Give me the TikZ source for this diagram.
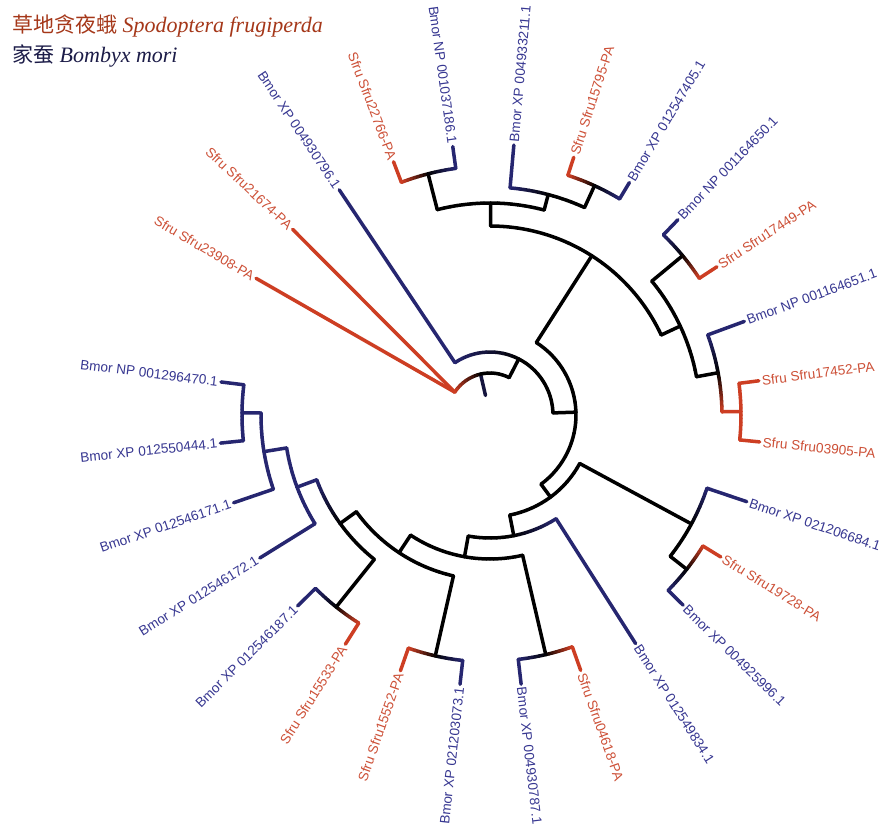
\documentclass[tikz,border=0pt]{standalone}
\usepackage{fontspec}
\setmainfont{Liberation Serif}
\newfontfamily\cjk{Noto Sans CJK SC}
\newfontfamily\labfont{Liberation Sans}
\usetikzlibrary{calc}
\definecolor{bm}{RGB}{38,38,112}
\definecolor{sf}{RGB}{205,62,35}
\definecolor{bml}{RGB}{55,55,145}
\definecolor{sfl}{RGB}{205,80,55}
\definecolor{lgr}{RGB}{165,55,25}
\definecolor{lgb}{RGB}{28,28,72}
\tikzset{br/.style={line width=3.5pt, line cap=round, line join=round},
  lab/.style={font=\labfont\fontsize{13.6}{15}\selectfont, inner sep=1pt},
  legend/.style={anchor=base west, inner sep=0pt, font=\fontsize{22}{25}\selectfont}}
% gradient arc: radius, from angle, to angle, from colour, to colour
\newcommand\garc[5]{%
  \foreach \k in {0,...,7}{%
    \pgfmathsetmacro\sa{#2+((#3)-(#2))*\k/8}%
    \pgfmathsetmacro\ea{#2+((#3)-(#2))*(\k+1)/8}%
    \pgfmathtruncatemacro\pc{(\k+0.5)*12.5}%
    \draw[br, draw=#5!\pc!#4] (\sa:#1pt) arc[start angle=\sa, end angle=\ea, radius=#1pt];
  }}
% internal node: name, angle, parent radius, own radius, colour
\newcommand\tnode[5]{%
  \coordinate (#1-b) at (#2:#3pt);
  \coordinate (#1) at (#2:#4pt);
  \draw[br, draw=#5] (#1-b) -- (#1);}
% leaf: name, angle, base coordinate, branch colour, label colour, text
\newcommand\leafcore[6]{%
  \coordinate (#1) at (#2:271pt);
  \draw[br, draw=#4] (#3) -- (#1);
  \pgfmathsetmacro\lcs{cos(#2)}%
  \ifdim\lcs pt>0pt
    \node[lab, text=#5, anchor=west, rotate=#2] (#1-t) at (#2:273pt) {#6};
  \else
    \pgfmathsetmacro\lrot{#2-180}%
    \node[lab, text=#5, anchor=east, rotate=\lrot] (#1-t) at (#2:273pt) {#6};
  \fi}
\newcommand\bleaf[4]{\coordinate (#1-b) at (#2:#3pt);\leafcore{#1}{#2}{#1-b}{bm}{bml}{#4}}
\newcommand\sleaf[4]{\coordinate (#1-b) at (#2:#3pt);\leafcore{#1}{#2}{#1-b}{sf}{sfl}{#4}}
\begin{document}
\begin{tikzpicture}
\useasboundingbox (-490pt,-408pt) rectangle (390pt,415pt);
\fill[white] (-490pt,-408pt) rectangle (390pt,415pt);
% legend
\node[legend, text=lgr] (leg1) at (-478pt,383pt) {{\cjk\fontsize{21}{24}\selectfont 草地贪夜蛾} \textit{Spodoptera frugiperda}};
\node[legend, text=lgb] (leg2) at (-478pt,353pt) {{\cjk\fontsize{21}{24}\selectfont 家蚕} \textit{Bombyx mori}};
% root
\coordinate (root0) at (103:20pt);
\coordinate (root) at (103:42pt);
\draw[br, draw=bm!55!black] (root0) -- (root);
\garc{42}{103}{147}{black}{sf}
\garc{42}{103}{62.85}{black}{black}
\coordinate (Z) at (147:42pt);
\leafcore{L1}{149.7}{Z}{sf}{sfl}{Sfru Sfru23908-PA}
\leafcore{L2}{136.75}{Z}{sf}{sfl}{Sfru Sfru21674-PA}
% A
\tnode{A}{62.85}{42}{63}{black}
\garc{63}{62.85}{123.8}{black}{bm}
\garc{63}{62.85}{1.9}{black}{black}
\bleaf{L3}{123.8}{63}{Bmor XP 004930796.1}
% B
\tnode{B}{1.9}{63}{86}{black}
\garc{86}{1.9}{57.4}{black}{black}
\garc{86}{1.9}{-53.6}{black}{black}
% C
\tnode{C}{57.4}{86}{189}{black}
\garc{189}{57.4}{89.8}{black}{black}
\garc{189}{57.4}{25.05}{black}{black}
% E
\tnode{E}{89.8}{189}{212}{black}
\garc{212}{89.8}{104.4}{black}{black}
\garc{212}{89.8}{75.2}{black}{black}
% F
\tnode{F}{104.4}{212}{249}{black}
\garc{249}{104.4}{110.85}{black}{sf}
\garc{249}{104.4}{97.9}{black}{bm}
\sleaf{L4}{110.85}{249}{Sfru Sfru22766-PA}
\bleaf{L5}{97.9}{249}{Bmor NP 001037186.1}
% G
\tnode{G}{75.2}{212}{228}{black}
\garc{228}{75.2}{84.95}{black}{bm}
\garc{228}{75.2}{65.5}{black}{black}
\bleaf{L6}{84.95}{228}{Bmor XP 004933211.1}
% I
\tnode{I}{65.5}{228}{252}{black}
\garc{252}{65.5}{72}{black}{sf}
\garc{252}{65.5}{59.05}{black}{bm}
\sleaf{L7}{72}{252}{Sfru Sfru15795-PA}
\bleaf{L8}{59.05}{252}{Bmor XP 012547405.1}
% H
\tnode{H}{25.05}{189}{210}{black}
\garc{210}{25.05}{39.6}{black}{black}
\garc{210}{25.05}{10.5}{black}{black}
% J
\tnode{J}{39.6}{210}{250}{black}
\garc{250}{39.6}{46.1}{black}{bm}
\garc{250}{39.6}{33.15}{black}{sf}
\bleaf{L9}{46.1}{250}{Bmor NP 001164650.1}
\sleaf{L10}{33.15}{250}{Sfru Sfru17449-PA}
% K
\tnode{K}{10.5}{210}{232}{black}
\garc{232}{10.5}{20.2}{black}{bm}
\garc{232}{10.5}{0.8}{black}{sf}
\bleaf{L11}{20.2}{232}{Bmor NP 001164651.1}
% Ln
\tnode{Ln}{0.8}{232}{251}{sf}
\garc{251}{0.8}{7.25}{sf}{sf}
\garc{251}{0.8}{-5.7}{sf}{sf}
\sleaf{L12}{7.25}{251}{Sfru Sfru17452-PA}
\sleaf{L13}{-5.7}{251}{Sfru Sfru03905-PA}
% D
\tnode{D}{-53.6}{86}{102}{black}
\garc{102}{-53.6}{-28.4}{black}{black}
\garc{102}{-53.6}{-78.85}{black}{black}
% M
\tnode{M}{-28.4}{102}{229}{black}
\garc{229}{-28.4}{-18.65}{black}{bm}
\garc{229}{-28.4}{-38.1}{black}{black}
\bleaf{L14}{-18.65}{229}{Bmor XP 021206684.1}
% Y
\tnode{Y}{-38.1}{229}{250}{black}
\garc{250}{-38.1}{-31.6}{black}{sf}
\garc{250}{-38.1}{-44.55}{black}{bm}
\sleaf{L15}{-31.6}{250}{Sfru Sfru19728-PA}
\bleaf{L16}{-44.55}{250}{Bmor XP 004925996.1}
% N
\tnode{N}{-78.85}{102}{123}{black}
\garc{123}{-78.85}{-57.5}{black}{bm}
\garc{123}{-78.85}{-100.2}{black}{black}
\bleaf{L17}{-57.5}{123}{Bmor XP 012549834.1}
% O
\tnode{O}{-100.2}{123}{144}{black}
\garc{144}{-100.2}{-76.9}{black}{black}
\garc{144}{-100.2}{-123.45}{black}{black}
% P
\tnode{P}{-76.9}{144}{246}{black}
\garc{246}{-76.9}{-70.45}{black}{sf}
\garc{246}{-76.9}{-83.4}{black}{bm}
\sleaf{L18}{-70.45}{246}{Sfru Sfru04618-PA}
\bleaf{L19}{-83.4}{246}{Bmor XP 004930787.1}
% Q
\tnode{Q}{-123.45}{144}{165}{black}
\garc{165}{-123.45}{-102.8}{black}{black}
\garc{165}{-123.45}{-144.1}{black}{black}
% R
\tnode{R}{-102.8}{165}{247}{black}
\garc{247}{-102.8}{-96.35}{black}{bm}
\garc{247}{-102.8}{-109.3}{black}{sf}
\bleaf{L20}{-96.35}{247}{Bmor XP 021203073.1}
\sleaf{L21}{-109.3}{247}{Sfru Sfru15552-PA}
% W
\tnode{W}{-144.1}{165}{185}{black}
\garc{185}{-144.1}{-128.7}{black}{black}
\garc{185}{-144.1}{-159.5}{black}{bm}
% X
\tnode{X}{-128.7}{185}{246}{black}
\garc{246}{-128.7}{-122.25}{black}{sf}
\garc{246}{-128.7}{-135.2}{black}{bm}
\sleaf{L22}{-122.25}{246}{Sfru Sfru15533-PA}
\bleaf{L23}{-135.2}{246}{Bmor XP 012546187.1}
% V
\tnode{V}{-159.5}{185}{206}{bm}
\garc{206}{-159.5}{-148.15}{bm}{bm}
\garc{206}{-159.5}{-170.8}{bm}{bm}
\bleaf{L24}{-148.15}{206}{Bmor XP 012546172.1}
% U
\tnode{U}{-170.8}{206}{229}{bm}
\garc{229}{-170.8}{-161.1}{bm}{bm}
\garc{229}{-170.8}{-180.5}{bm}{bm}
\bleaf{L25}{-161.1}{229}{Bmor XP 012546171.1}
% T
\tnode{T}{-180.5}{229}{248}{bm}
\garc{248}{-180.5}{-174.05}{bm}{bm}
\garc{248}{-180.5}{-187}{bm}{bm}
\bleaf{L26}{-174.05}{248}{Bmor XP 012550444.1}
\bleaf{L27}{-187}{248}{Bmor NP 001296470.1}
\end{tikzpicture}
\end{document}
